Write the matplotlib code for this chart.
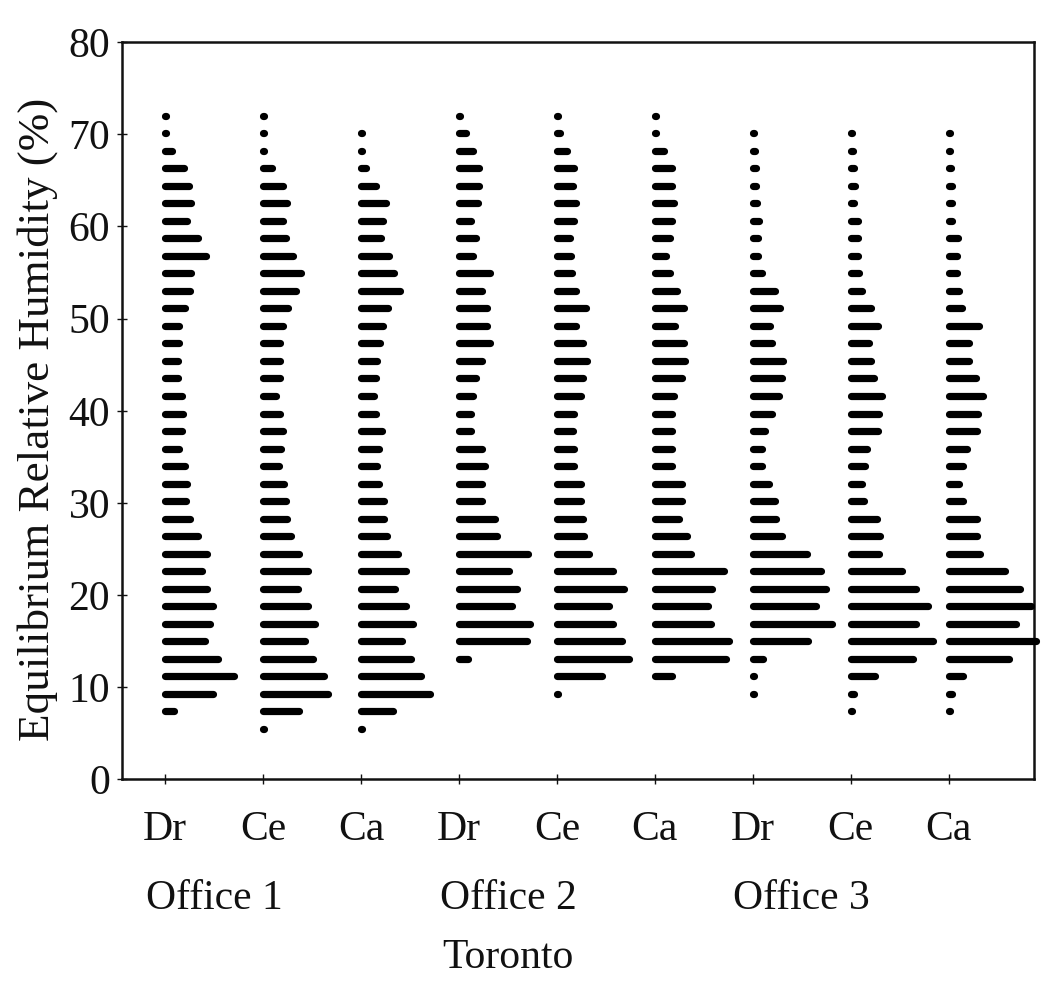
import matplotlib
matplotlib.use("Agg")
import matplotlib.pyplot as plt
from matplotlib.collections import LineCollection
import matplotlib.transforms as mtransforms

# Relative-humidity bin centres (%)
rh_bins = [5.5, 7.4, 9.3, 11.2, 13.1, 15.0, 16.9, 18.8, 20.7, 22.6, 24.5, 26.4,
           28.3, 30.2, 32.1, 34.0, 35.9, 37.8, 39.7, 41.6, 43.5, 45.4, 47.3, 49.2,
           51.1, 53.0, 54.9, 56.8, 58.7, 60.6, 62.5, 64.4, 66.3, 68.2, 70.1, 72.0]

# Frequency of occurrence (% of time) in each bin; None = no occurrence
dr_office1 = [None, 0.9, 4.9, 7.0, 5.4, 4.1, 4.6, 4.9, 4.3, 3.8, 4.3, 3.4, 2.5, 2.1, 2.2, 2.0, 1.4, 1.7,
              1.8, 1.7, 1.3, 1.3, 1.4, 1.4, 2.0, 2.5, 2.7, 4.2, 3.4, 2.2, 2.7, 2.4, 1.9, 0.7, 0.1, 0.1]
ce_office1 = [0.1, 3.7, 6.6, 6.2, 5.1, 4.3, 5.3, 4.6, 3.6, 4.6, 3.7, 2.9, 2.5, 2.3, 2.1, 1.6, 1.8, 2.0,
              1.7, 1.3, 1.7, 1.7, 1.7, 2.0, 2.6, 3.4, 3.9, 3.1, 2.3, 2.0, 2.4, 2.0, 0.9, 0.1, 0.1, 0.1]
ca_office1 = [0.1, 3.3, 7.0, 6.1, 5.1, 4.2, 5.3, 4.6, 3.5, 4.6, 3.8, 2.7, 2.4, 2.4, 1.8, 1.6, 1.8, 2.1,
              1.5, 1.3, 1.5, 1.6, 1.9, 2.3, 2.8, 4.0, 3.4, 2.9, 2.0, 2.3, 2.6, 1.5, 0.5, 0.1, 0.1, None]
dr_office2 = [None, None, None, None, 0.9, 7.0, 7.3, 5.4, 5.9, 5.1, 7.1, 3.9, 3.7, 2.4, 2.4, 2.7, 2.4, 1.2,
              1.2, 1.4, 1.7, 2.4, 3.2, 2.9, 2.9, 2.4, 3.2, 1.4, 1.7, 1.2, 1.9, 2.1, 2.0, 1.4, 0.7, 0.1]
ce_office2 = [None, None, 0.1, 4.6, 7.4, 6.6, 5.7, 5.3, 6.8, 5.7, 3.3, 2.8, 2.7, 2.5, 2.5, 1.7, 1.7, 1.6,
              1.7, 2.5, 2.7, 3.1, 2.7, 1.9, 3.0, 2.0, 1.5, 1.4, 1.3, 1.7, 2.0, 1.6, 1.7, 1.0, 0.3, 0.1]
ca_office2 = [None, None, None, 1.8, 7.3, 7.6, 5.7, 5.4, 5.8, 7.1, 3.7, 3.3, 2.5, 2.8, 2.8, 1.8, 1.8, 1.7,
              1.8, 2.0, 2.8, 3.1, 3.0, 2.1, 3.0, 2.3, 1.5, 1.1, 1.5, 1.8, 2.0, 1.8, 1.8, 0.9, 0.1, 0.1]
dr_office3 = [None, None, 0.1, 0.1, 1.0, 5.6, 8.1, 6.5, 7.5, 7.0, 5.5, 3.0, 2.4, 2.3, 1.7, 0.9, 0.9, 1.2,
              2.0, 2.7, 3.0, 3.1, 2.0, 1.8, 2.8, 2.3, 0.9, 0.5, 0.5, 0.6, 0.4, 0.3, 0.3, 0.2, 0.1, None]
ce_office3 = [None, 0.1, 0.3, 2.5, 6.4, 8.4, 6.7, 7.9, 6.7, 5.2, 2.9, 3.0, 2.7, 1.3, 1.1, 1.5, 1.7, 2.8,
              2.9, 3.2, 2.4, 2.1, 1.9, 2.8, 2.1, 1.1, 0.8, 0.7, 0.7, 0.7, 0.3, 0.4, 0.3, 0.2, 0.1, None]
ca_office3 = [None, 0.1, 0.3, 1.5, 6.2, 8.9, 6.9, 8.4, 7.3, 5.7, 3.2, 2.9, 2.9, 1.5, 1.0, 1.5, 1.9, 2.9,
              3.0, 3.5, 2.8, 2.1, 2.1, 3.1, 1.4, 1.0, 0.8, 0.8, 0.9, 0.3, 0.3, 0.3, 0.2, 0.1, 0.1, None]

series = [dr_office1, ce_office1, ca_office1,
          dr_office2, ce_office2, ca_office2,
          dr_office3, ce_office3, ca_office3]
category_labels = ["Dr", "Ce", "Ca", "Dr", "Ce", "Ca", "Dr", "Ce", "Ca"]
office_labels = ["Office 1", "Office 2", "Office 3"]
site_label = "Toronto"
y_ticks = [0, 10, 20, 30, 40, 50, 60, 70, 80]

FREQ_PER_SLOT = 10.0   # % of time spanned by one category slot

plt.rcParams["font.family"] = ["Liberation Serif", "DejaVu Serif"]

fig = plt.figure(figsize=(10.51, 10.08), dpi=100)
fig.patch.set_facecolor("white")
ax = fig.add_axes([0.1161, 0.2267, 0.8678, 0.7316])

# Horizontal histogram bars growing to the right of each category position
for i, values in enumerate(series):
    x0 = i + 1
    segs = []
    for rh, v in zip(rh_bins, values):
        if v is None:
            continue
        segs.append([(x0, rh), (x0 + v / FREQ_PER_SLOT, rh)])
    lc = LineCollection(segs, colors="black", linewidths=5.2, capstyle="round",
                        clip_on=False, zorder=3)
    ax.add_collection(lc)

ax.set_xlim(0.561, 9.871)
ax.set_ylim(0, 80)

for side in ["left", "right", "top", "bottom"]:
    ax.spines[side].set_linewidth(1.8)
    ax.spines[side].set_color("#111111")

ax.set_yticks(y_ticks)
ax.set_yticklabels([str(t) for t in y_ticks])
ax.tick_params(axis="y", direction="inout", length=7, width=1.0, pad=5,
               labelsize=30, colors="#111111")

ax.set_xticks(range(1, len(category_labels) + 1))
ax.set_xticklabels(category_labels)
ax.tick_params(axis="x", direction="inout", length=7, width=1.0, pad=40,
               labelsize=30, colors="#111111")
for lbl in ax.get_xticklabels():
    lbl.set_verticalalignment("baseline")

# Office and site labels below the categories
trans = mtransforms.blended_transform_factory(ax.transData, fig.transFigure)
for k, name in enumerate(office_labels):
    ax.text(1.5 + 3 * k, 1 - 909 / 1008, name, transform=trans, ha="center",
            va="baseline", fontsize=30, color="#111111")
ax.text(4.5, 1 - 968 / 1008, site_label, transform=trans, ha="center",
        va="baseline", fontsize=30, color="#111111")

fig.text(38 / 1051, 1 - 419 / 1008, "Equilibrium Relative Humidity (%)",
         rotation=90, ha="center", va="center", fontsize=32.5, color="#111111")

fig.savefig("out.png", dpi=100, facecolor="white")
